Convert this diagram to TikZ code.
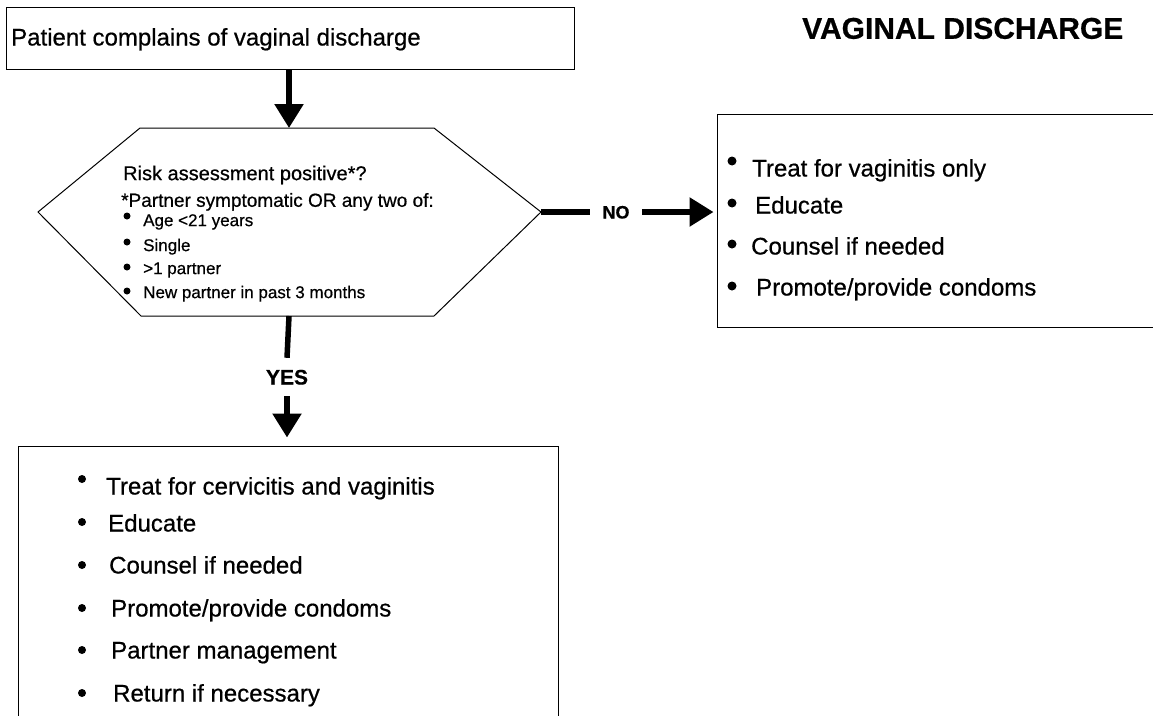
\documentclass[tikz,border=0pt]{standalone}
\usepackage{fontspec}
\setmainfont{Liberation Sans}[FakeBold=0.6]
\usetikzlibrary{arrows.meta, positioning, calc}

\begin{document}
\begin{tikzpicture}[x=1pt, y=-1pt,
  box/.style={draw, line width=1pt, inner sep=0pt},
  txt/.style={anchor=west, inner sep=0pt, text depth=0pt},
  big/.style={txt, font=\fontsize{24}{28}\selectfont, text height=17pt},
  mid/.style={txt, font=\fontsize{20}{24}\selectfont, text height=14.3pt},
  sml/.style={txt, font=\fontsize{17}{20}\selectfont, text height=12.2pt},
  blob/.style={circle, fill, inner sep=0pt, minimum size=#1},
  blob/.default=8pt,
  shaft/.style={line width=5.5pt},
  flow/.style={shaft, -{Triangle[length=24pt, width=28pt]}},
  yesno/.style={inner xsep=12.5pt, inner ysep=11.5pt, text depth=0pt}
]
\path[use as bounding box, fill=white] (0,0) rectangle (1153,715);

% start
\node[box, minimum width=568pt, minimum height=62pt] (top) at (290,38) {};
\node[big] (toptxt) at (11,37) {Patient complains of vaginal discharge};
\node[txt, font=\bfseries\fontsize{30}{34}\selectfont, text height=21.5pt] (title) at (802,28) {VAGINAL DISCHARGE};

% decision
\coordinate (hexW) at (38,212);
\coordinate (hexNW) at (140,128);
\coordinate (hexN) at (289,128);
\coordinate (hexNE) at (434,128);
\coordinate (hexE) at (541,212);
\coordinate (hexSE) at (434,316);
\coordinate (hexS) at (289,316);
\coordinate (hexSW) at (141,316);
\draw[line width=1pt] (hexW) -- (hexNW) -- (hexNE) -- (hexE) -- (hexSE) -- (hexSW) -- cycle;
\node[mid] (risk) at (123,173) {Risk assessment positive*?};
\node[txt, font=\fontsize{19}{22}\selectfont, text height=13.6pt] (crit) at (121,200) {*Partner symptomatic OR any two of:};
\node[blob=7pt] (c1b) at (127,216) {};
\node[sml] (c1) at (143,220) {Age <21 years};
\node[blob=7pt] (c2b) at (127,242) {};
\node[sml] (c2) at (143,245) {Single};
\node[blob=7pt] (c3b) at (127,267) {};
\node[sml] (c3) at (143,268) {>1 partner};
\node[blob=7pt] (c4b) at (127,291) {};
\node[sml] (c4) at (143,292) {New partner in past 3 months};

% NO branch
\node[box, minimum width=443pt, minimum height=213pt] (neg) at (938.5,220.5) {};
\node[blob=9pt] (n1b) at (732,161) {};
\node[big] (n1) at (752,168) {Treat for vaginitis only};
\node[blob=9pt] (n2b) at (732,203) {};
\node[big] (n2) at (755,205) {Educate};
\node[blob=9pt] (n3b) at (732,244) {};
\node[big] (n3) at (751,246) {Counsel if needed};
\node[blob=9pt] (n4b) at (732,286) {};
\node[big] (n4) at (756,287) {Promote/provide condoms};

% YES branch
\node[box, minimum width=540pt, minimum height=284pt] (pos) at (288,588) {};
\node[blob] (p1b) at (82,479) {};
\node[big] (p1) at (106,486) {Treat for cervicitis and vaginitis};
\node[blob] (p2b) at (82,522) {};
\node[big] (p2) at (108,523) {Educate};
\node[blob] (p3b) at (82,565) {};
\node[big] (p3) at (109,565) {Counsel if needed};
\node[blob] (p4b) at (82,608) {};
\node[big] (p4) at (111,608) {Promote/provide condoms};
\node[blob] (p5b) at (82,650) {};
\node[big] (p5) at (111,650) {Partner management};
\node[blob] (p6b) at (82,693) {};
\node[big] (p6) at (113,693) {Return if necessary};

% connectors
\draw[flow] (hexN |- top.south) -- (hexN);
\node[yesno, font=\bfseries\fontsize{18}{20}\selectfont, text height=13pt] (no) at (616,212) {NO};
\draw[shaft] (hexE) -- (no.west);
\draw[flow, shorten >=3pt] (no.east) -- (no.east -| neg.west);
\node[yesno, font=\bfseries\fontsize{21}{24}\selectfont, text height=15pt] (yes) at (287,377) {YES};
\draw[shaft] (hexS) -- (yes.north);
\draw[flow, shorten >=8pt] (yes.south) -- (yes.south |- pos.north);
\end{tikzpicture}
\end{document}
